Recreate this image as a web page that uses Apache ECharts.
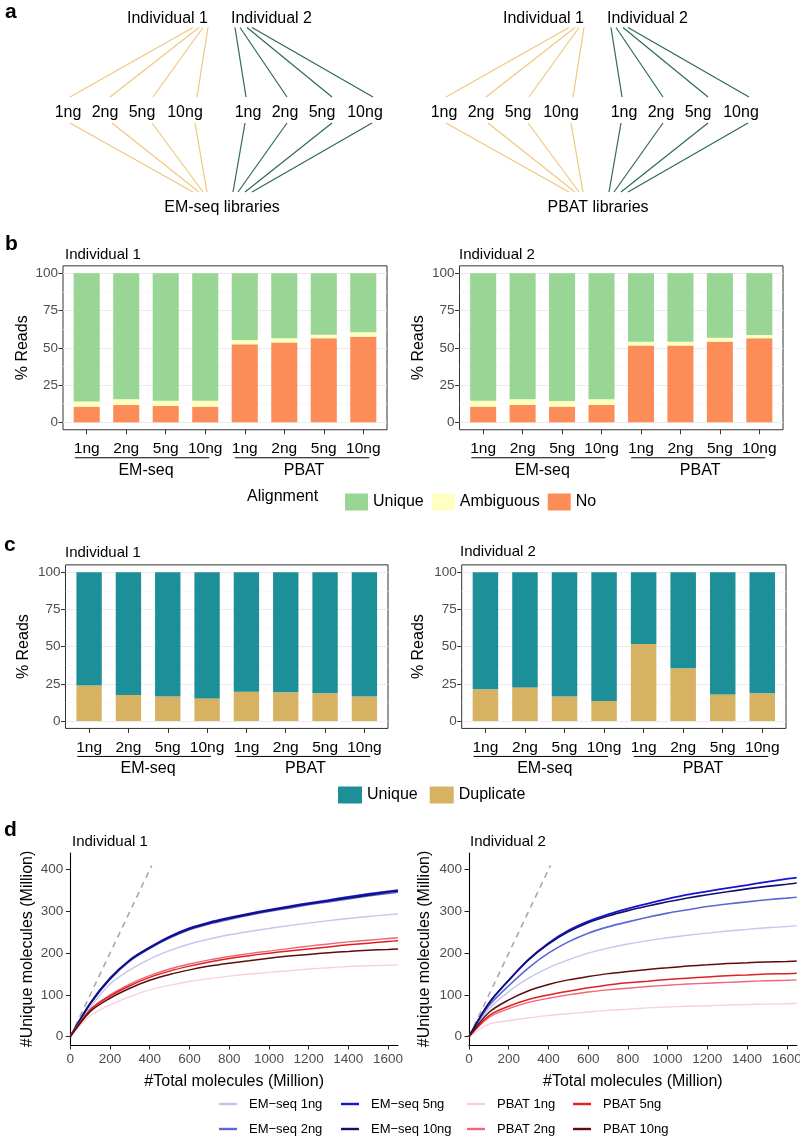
<!DOCTYPE html>
<html><head><meta charset="utf-8">
<script src="https://cdn.jsdelivr.net/npm/echarts@6/dist/echarts.min.js"></script>
<style>html,body{margin:0;padding:0;background:#fff}#c{width:800px;height:1139px}</style>
</head><body><div id="c"></div>
<script>
// ================= DATA =================
const individuals = ['Individual 1', 'Individual 2'];
const libraries = ['EM-seq libraries', 'PBAT libraries'];
const amounts = ['1ng', '2ng', '5ng', '10ng'];
const methodGroups = ['EM-seq', 'PBAT'];
const barCategories = ['EM-seq 1ng', 'EM-seq 2ng', 'EM-seq 5ng', 'EM-seq 10ng',
                       'PBAT 1ng', 'PBAT 2ng', 'PBAT 5ng', 'PBAT 10ng'];
const alignmentLevels = ['Unique', 'Ambiguous', 'No'];
const pctTicks = [0, 25, 50, 75, 100];

// panel b: alignment (% reads)
const alignNo1     = [10.5, 11.6, 11.0, 10.5, 52.3, 53.5, 56.4, 57.5];
const alignAmb1    = [3.4, 3.8, 3.5, 4.0, 3.0, 2.9, 2.4, 2.9];
const alignUnique1 = [86.1, 84.6, 85.5, 85.5, 44.7, 43.6, 41.2, 39.6];
const alignNo2     = [10.5, 11.6, 10.5, 11.6, 51.5, 51.5, 54.1, 56.4];
const alignAmb2    = [4.0, 3.8, 3.8, 3.8, 2.6, 2.6, 2.7, 2.2];
const alignUnique2 = [85.5, 84.6, 85.7, 84.6, 45.9, 45.9, 43.2, 41.4];

// panel c: duplication (% reads)
const dupDuplicate1 = [23.8, 17.5, 16.4, 15.2, 19.7, 19.3, 18.6, 16.4];
const dupUnique1    = [76.2, 82.5, 83.6, 84.8, 80.3, 80.7, 81.4, 83.6];
const dupDuplicate2 = [21.3, 22.6, 16.4, 13.5, 51.8, 35.4, 17.9, 18.6];
const dupUnique2    = [78.7, 77.4, 83.6, 86.5, 48.2, 64.6, 82.1, 81.4];

// panel d: saturation curves (values read at each total-molecule step)
const totalMolecules = [0, 100, 200, 300, 400, 500, 600, 700, 800, 900, 1000, 1100, 1200, 1300, 1400, 1500, 1600, 1650];
const xTicksD = [0, 200, 400, 600, 800, 1000, 1200, 1400, 1600];
const yTicksD = [0, 100, 200, 300, 400];
const identityRange = [0, 410];
const curveNames = ['EM\u2212seq 1ng', 'EM\u2212seq 2ng', 'EM\u2212seq 5ng', 'EM\u2212seq 10ng',
                    'PBAT 1ng', 'PBAT 2ng', 'PBAT 5ng', 'PBAT 10ng'];
const ind1EM1ng  = [0, 70, 126, 160, 186, 206, 222, 234, 244, 252, 259, 266, 272, 278, 283, 288, 292, 294];
const ind1EM2ng  = [0, 78, 137, 181, 211, 236, 256, 270, 281, 291, 300, 308, 316, 323, 330, 337, 343, 346];
const ind1EM5ng  = [0, 80, 140, 184, 214, 240, 260, 274, 285, 295, 304, 312, 320, 327, 335, 342, 348, 351];
const ind1EM10ng = [0, 79, 139, 183, 213, 238, 258, 272, 283, 293, 302, 310, 318, 325, 332, 339, 346, 349];
const ind1PB1ng  = [0, 50, 76, 96, 112, 123, 132, 139, 145, 150, 154, 158, 162, 165, 168, 170, 171, 172];
const ind1PB2ng  = [0, 65, 100, 126, 146, 162, 174, 184, 192, 199, 205, 211, 217, 222, 227, 231, 235, 237];
const ind1PB5ng  = [0, 64, 97, 122, 142, 157, 169, 179, 187, 194, 200, 205, 210, 215, 220, 224, 228, 230];
const ind1PB10ng = [0, 60, 92, 116, 135, 149, 160, 169, 176, 182, 188, 193, 197, 201, 204, 207, 209, 210];
const ind2EM1ng  = [0, 66, 108, 140, 165, 184, 200, 212, 222, 230, 237, 243, 248, 253, 257, 261, 264, 266];
const ind2EM2ng  = [0, 74, 122, 165, 200, 227, 248, 263, 275, 286, 296, 304, 312, 318, 323, 328, 332, 334];
const ind2EM5ng  = [0, 80, 135, 185, 224, 254, 276, 293, 307, 319, 330, 340, 348, 356, 363, 371, 378, 381];
const ind2EM10ng = [0, 80, 135, 184, 222, 251, 273, 289, 302, 313, 323, 332, 340, 347, 354, 360, 365, 368];
const ind2PB1ng  = [0, 30, 38, 45, 51, 55, 59, 63, 66, 69, 71, 73, 74, 76, 77, 78, 79, 80];
const ind2PB2ng  = [0, 46, 67, 82, 92, 100, 107, 112, 116, 120, 123, 126, 128, 130, 132, 134, 135, 136];
const ind2PB5ng  = [0, 50, 73, 89, 100, 109, 117, 124, 129, 133, 137, 140, 143, 146, 148, 150, 151, 152];
const ind2PB10ng = [0, 58, 88, 110, 125, 136, 144, 151, 156, 161, 165, 169, 172, 175, 177, 179, 180, 181];

// ================= STYLE / LAYOUT =================
const FONT = '"Liberation Sans", Arial, Helvetica, sans-serif';
const INK = '#000000', GREY = '#4d4d4d', FRAME = '#333333';
const alignColors = { 'Unique': '#99d594', 'Ambiguous': '#ffffbf', 'No': '#fc8d59' };
const dupColors = { 'Unique reads': '#1d8f98', 'Duplicate reads': '#d8b263' };
const curveColors = ['#c3c6ef', '#5b67d6', '#1414d6', '#11116e', '#f8d2da', '#f06474', '#e0201e', '#5c0c0c'];
const curveWidths = [1.4, 1.6, 1.8, 1.6, 1.4, 1.4, 1.5, 1.5];
const diagramColors = ['#f1c77c', '#2e6a52'];

const panelsB = [
  { L: 63, R: 387, y0: 422.3, y100: 273.3, nameGap: 32, title: [65, 255] },
  { L: 459.5, R: 783, y0: 422.3, y100: 273.3, nameGap: 33, title: [459, 255] }
];
const panelsC = [
  { L: 65.5, R: 388, y0: 721, y100: 572.3, nameGap: 34, title: [65, 553] },
  { L: 461.7, R: 786, y0: 721, y100: 572.3, nameGap: 35, title: [460, 552] }
];
const panelsD = [
  { L: 70.3, nameGap: 35, title: [72, 842] },
  { L: 469, nameGap: 36, title: [470, 842] }
];
const D_TOP = 853, D_H = 192, D_W = 327.7;
const groupSpans = [[0.7, 4.1], [4.75, 8.15]];
const groupCenters = [2.5, 6.5];
const legendColX = [214, 336, 462, 568];
const legendRowTop = [1091, 1116];

const diagramLayout = {
  blockOffset: [0, 376],
  topY: 19, anchorY: 27.5, midTopY: 97, midY: 113, midBotY: 123, botY: 192, libY: 208,
  topX: [167.5, 271.5],
  anchorX: [[193, 199, 203, 208], [235, 240, 247, 252]],
  midX: [[68, 105, 142, 185], [248, 285, 322, 365]],
  midTopX: [[70, 110, 153, 197], [246, 287, 332, 373]],
  midBotX: [[70, 112, 152, 195], [245, 287, 332, 372]],
  botX: [[193, 199, 203, 207], [233, 238, 245, 252]],
  libX: 222
};

// ================= BUILD =================
const chart = echarts.init(document.getElementById('c'), null, { renderer: 'canvas' });
const grids = [], xAxes = [], yAxes = [], series = [], legends = [];
const hidden = (min, max, inv) => ({ type: 'value', show: false, min: min, max: max, inverse: !!inv,
  axisLine: { show: false, onZero: false }, splitLine: { show: false }, axisTick: { show: false }, axisLabel: { show: false } });
function addGrid(g, x, y) {
  grids.push(Object.assign({ containLabel: false, outerBoundsMode: 'none' }, g));
  const gi = grids.length - 1;
  xAxes.push(Object.assign({ gridIndex: gi }, x));
  yAxes.push(Object.assign({ gridIndex: gi }, y));
  return gi;
}

// ---- panel a (diagram) ----
const dg = addGrid({ left: 0, top: 0, width: 800, height: 230 }, hidden(0, 800), hidden(0, 230, true));
const links = [], diagramTexts = [];
libraries.forEach((lib, bi) => {
  const dx = diagramLayout.blockOffset[bi];
  individuals.forEach((ind, ii) => {
    diagramTexts.push({ name: ind, value: [diagramLayout.topX[ii] + dx, diagramLayout.topY] });
    amounts.forEach((amt, ai) => {
      diagramTexts.push({ name: amt, value: [diagramLayout.midX[ii][ai] + dx, diagramLayout.midY] });
      links.push({ coords: [[diagramLayout.anchorX[ii][ai] + dx, diagramLayout.anchorY], [diagramLayout.midTopX[ii][ai] + dx, diagramLayout.midTopY]], lineStyle: { color: diagramColors[ii] } });
      links.push({ coords: [[diagramLayout.midBotX[ii][ai] + dx, diagramLayout.midBotY], [diagramLayout.botX[ii][ai] + dx, diagramLayout.botY]], lineStyle: { color: diagramColors[ii] } });
    });
  });
  diagramTexts.push({ name: lib, value: [diagramLayout.libX + dx, diagramLayout.libY] });
});
series.push({ type: 'lines', coordinateSystem: 'cartesian2d', xAxisIndex: dg, yAxisIndex: dg, silent: true,
  lineStyle: { width: 1.2, opacity: 1, curveness: 0 }, data: links });

// ---- bar panels ----
const barMeta = [];
function barPanel(P, stacks, stackId, bwFrac) {
  const ext = (P.y0 - P.y100) * 0.05;
  const T = P.y100 - ext, B = P.y0 + ext;
  addGrid({ left: P.L, top: T, width: P.R - P.L, height: B - T, show: true, borderColor: FRAME, borderWidth: 1,
            backgroundColor: 'rgba(0,0,0,0)' }, hidden(0, 1), hidden(0, 1));
  const u = (P.R - P.L) / 8.2;
  const gl = addGrid({ left: P.L, top: P.y100, width: P.R - P.L, height: P.y0 - P.y100 },
    hidden(0.4, 8.6),
    { type: 'value', min: 0, max: 100, interval: 25,
      axisLine: { show: false, onZero: false },
      axisTick: { show: true, length: 4.5, lineStyle: { color: FRAME } },
      axisLabel: { color: GREY, fontSize: 13.5, margin: 5, fontFamily: FONT },
      splitLine: { show: true, lineStyle: { color: '#ebebeb', width: 1 } },
      minorTick: { show: false, splitNumber: 2 },
      minorSplitLine: { show: true, lineStyle: { color: '#f5f5f5', width: 0.7 } },
      name: '% Reads', nameLocation: 'middle', nameGap: P.nameGap,
      nameTextStyle: { fontSize: 16, color: INK, fontFamily: FONT } });
  const gb = addGrid({ left: P.L + 0.1 * u, top: P.y100, width: 8 * u, height: P.y0 - P.y100 },
    { type: 'category', data: barCategories, boundaryGap: true, offset: B - P.y0,
      axisLine: { show: false, onZero: false }, splitLine: { show: false },
      axisTick: { show: true, alignWithLabel: true, interval: 0, length: 4.5, lineStyle: { color: FRAME } },
      axisLabel: { show: true, interval: 0, hideOverlap: false, formatter: v => v.split(' ')[1],
                   color: INK, fontSize: 15.5, margin: 11, fontFamily: FONT } },
    { type: 'value', show: false, min: 0, max: 100, splitLine: { show: false }, axisLine: { show: false } });
  stacks.forEach(s => series.push({ type: 'bar', name: s.name, xAxisIndex: gb, yAxisIndex: gb, stack: stackId,
    barWidth: u * bwFrac, silent: true, itemStyle: { color: s.color }, data: s.values }));
  barMeta.push({ gl: gl, B: B, P: P });
}
barPanel(panelsB[0], [{ name: 'No', values: alignNo1, color: alignColors.No },
  { name: 'Ambiguous', values: alignAmb1, color: alignColors.Ambiguous },
  { name: 'Unique', values: alignUnique1, color: alignColors.Unique }], 'b1', 0.66);
barPanel(panelsB[1], [{ name: 'No', values: alignNo2, color: alignColors.No },
  { name: 'Ambiguous', values: alignAmb2, color: alignColors.Ambiguous },
  { name: 'Unique', values: alignUnique2, color: alignColors.Unique }], 'b2', 0.66);
barPanel(panelsC[0], [{ name: 'Duplicate reads', values: dupDuplicate1, color: dupColors['Duplicate reads'] },
  { name: 'Unique reads', values: dupUnique1, color: dupColors['Unique reads'] }], 'c1', 0.645);
barPanel(panelsC[1], [{ name: 'Duplicate reads', values: dupDuplicate2, color: dupColors['Duplicate reads'] },
  { name: 'Unique reads', values: dupUnique2, color: dupColors['Unique reads'] }], 'c2', 0.645);

legends.push({ left: 340, top: 488.5, itemWidth: 23, itemHeight: 17, itemGap: 8, icon: 'rect', selectedMode: false,
  data: alignmentLevels, textStyle: { fontSize: 16, color: INK, fontFamily: FONT } });
legends.push({ left: 333, top: 781.5, itemWidth: 24, itemHeight: 17, itemGap: 12, icon: 'rect', selectedMode: false,
  data: ['Unique reads', 'Duplicate reads'], formatter: n => n.replace(' reads', ''),
  textStyle: { fontSize: 16, color: INK, fontFamily: FONT } });

// ---- curve panels ----
const curvesByInd = [
  [ind1EM1ng, ind1EM2ng, ind1EM5ng, ind1EM10ng, ind1PB1ng, ind1PB2ng, ind1PB5ng, ind1PB10ng],
  [ind2EM1ng, ind2EM2ng, ind2EM5ng, ind2EM10ng, ind2PB1ng, ind2PB2ng, ind2PB5ng, ind2PB10ng]
];
panelsD.forEach((P, k) => {
  const axisLineStyle = { color: '#000', width: 1.1 };
  const gi = addGrid({ left: P.L, top: D_TOP, width: D_W, height: D_H },
    { type: 'value', min: 0, max: totalMolecules[totalMolecules.length - 1],
      axisLine: { show: true, onZero: false, lineStyle: axisLineStyle }, splitLine: { show: false },
      axisTick: { show: true, length: 4.5, customValues: xTicksD, lineStyle: { color: '#222' } },
      axisLabel: { show: true, customValues: xTicksD, formatter: v => String(v), color: GREY, fontSize: 13.5, margin: 7, fontFamily: FONT },
      name: '#Total molecules (Million)', nameLocation: 'middle', nameGap: 29,
      nameTextStyle: { fontSize: 16, color: INK, fontFamily: FONT } },
    { type: 'value', min: -20, max: 440,
      axisLine: { show: true, onZero: false, lineStyle: axisLineStyle }, splitLine: { show: false },
      axisTick: { show: true, length: 4.5, customValues: yTicksD, lineStyle: { color: '#222' } },
      axisLabel: { show: true, customValues: yTicksD, formatter: v => String(v), color: GREY, fontSize: 13.5, margin: 7, fontFamily: FONT },
      name: '#Unique molecules (Million)', nameLocation: 'middle', nameGap: P.nameGap,
      nameTextStyle: { fontSize: 16, color: INK, fontFamily: FONT } });
  series.push({ type: 'line', xAxisIndex: gi, yAxisIndex: gi, silent: true, symbol: 'none', showSymbol: false, z: 1,
    lineStyle: { color: '#a8a8a8', width: 1.6, type: [6, 5] }, itemStyle: { color: '#a8a8a8' },
    data: identityRange.map(v => [v, v]) });
  curvesByInd[k].forEach((vals, ci) => series.push({
    type: 'line', name: curveNames[ci], xAxisIndex: gi, yAxisIndex: gi, silent: true,
    symbol: 'none', showSymbol: false, smooth: 0.3, z: 2,
    lineStyle: { color: curveColors[ci], width: curveWidths[ci] }, itemStyle: { color: curveColors[ci] },
    data: totalMolecules.map((x, i) => [x, vals[i]]) }));
});
// legend: 2 rows x 4 columns, filled by column
curveNames.forEach((nm, i) => legends.push({
  orient: 'horizontal', left: legendColX[Math.floor(i / 2)], top: legendRowTop[i % 2],
  itemWidth: 18, itemHeight: 2.4, icon: 'rect', selectedMode: false, data: [nm],
  textStyle: { fontSize: 13, lineHeight: 16, color: INK, fontFamily: FONT, padding: [0, 0, 0, 7] } }));

chart.setOption({
  animation: false, backgroundColor: '#ffffff',
  textStyle: { fontFamily: FONT },
  grid: grids, xAxis: xAxes, yAxis: yAxes, series: series, legend: legends
});

// ---- annotations (texts, group underlines) ----
const g = [];
function txt(x, y, text, size, weight, align) {
  return { type: 'text', x: x, y: y, silent: true,
    style: { text: text, fontSize: size, fontWeight: weight || 'normal', fontFamily: FONT, fill: INK,
             align: align || 'left', verticalAlign: 'middle', textAlign: align || 'left', textVerticalAlign: 'middle' } };
}
diagramTexts.forEach(d => {
  const p = chart.convertToPixel({ gridIndex: dg }, d.value);
  g.push(txt(p[0], p[1], d.name, 16, 'normal', 'center'));
});
g.push(txt(5, 12, 'a', 21, 'bold'));
g.push(txt(5, 244, 'b', 21, 'bold'));
g.push(txt(4, 545, 'c', 21, 'bold'));
g.push(txt(4, 830, 'd', 21, 'bold'));
barMeta.forEach((m, idx) => {
  g.push(txt(m.P.title[0], m.P.title[1], individuals[idx % 2], 15));
  groupSpans.forEach((sp, gk) => {
    const x1 = chart.convertToPixel({ xAxisIndex: m.gl }, sp[0]);
    const x2 = chart.convertToPixel({ xAxisIndex: m.gl }, sp[1]);
    const xc = chart.convertToPixel({ xAxisIndex: m.gl }, groupCenters[gk]);
    g.push({ type: 'line', silent: true, shape: { x1: x1, y1: m.B + 28, x2: x2, y2: m.B + 28 },
             style: { stroke: INK, lineWidth: 1 } });
    g.push(txt(xc, m.B + 40.5, methodGroups[gk], 16, 'normal', 'center'));
  });
});
panelsD.forEach((P, k) => g.push(txt(P.title[0], P.title[1], individuals[k], 15)));
g.push(txt(247, 497, 'Alignment', 16));
chart.setOption({ graphic: g });
</script></body></html>
